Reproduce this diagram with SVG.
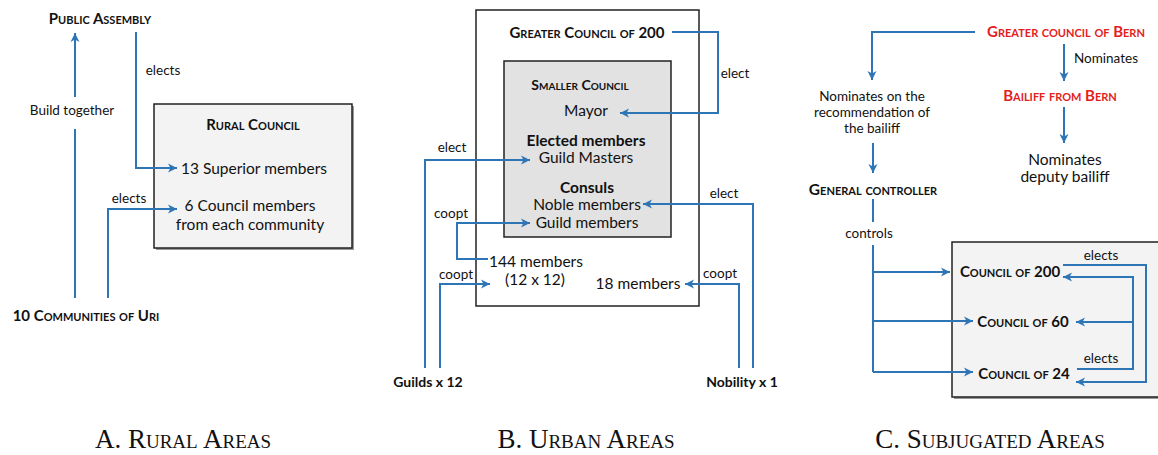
<svg xmlns="http://www.w3.org/2000/svg" width="1158" height="455" viewBox="0 0 1158 455">
<style>
text{font-family:Lato,"Open Sans","Liberation Sans",sans-serif;fill:#111;text-anchor:middle}
.t{font-size:13.5px}
.m{font-size:15.5px}
.sc{font-size:15px;font-weight:bold;font-variant:small-caps}
.b{font-weight:bold}
.red{fill:#e3211c}
.cap{font-family:"Liberation Serif","Times New Roman",serif;font-size:27px;font-variant:small-caps;font-weight:normal}
.box{stroke:#222;stroke-width:1.5}
.c{fill:none;stroke:#2e75b6;stroke-width:2}
.a{marker-end:url(#ah)}
</style>
<defs>
<marker id="ah" markerUnits="userSpaceOnUse" markerWidth="12" markerHeight="12" viewBox="0 0 12 12" refX="10" refY="6" orient="auto">
<path d="M1,1.5 L10,6 L1,10.5 L3.5,6 z" fill="#2e75b6"/>
</marker>
</defs>
<rect width="1158" height="455" fill="#fff"/>

<!-- Panel A -->
<g id="public-assembly"><text class="sc" x="100" y="24">Public Assembly</text></g>
<g id="rural-council">
<rect x="156" y="106" width="198" height="144" fill="#999"/>
<rect class="box" x="154" y="104" width="198" height="144" fill="#f3f3f3"/>
<text class="sc" x="253" y="130">Rural Council</text>
<text class="m" x="254" y="174">13 Superior members</text>
<text class="m" x="250" y="211">6 Council members</text>
<text class="m" x="250" y="230">from each community</text>
</g>
<g id="communities-uri"><text class="sc" x="86" y="321">10 Communities of Uri</text></g>

<!-- Panel B -->
<g id="greater-council-200">
<rect class="box" x="476" y="10" width="223" height="296" fill="#fff"/>
<text class="sc" x="587" y="38">Greater Council of 200</text>
<text class="m" x="536" y="267">144 members</text>
<text class="m" x="535" y="285">(12 x 12)</text>
<text class="m" x="638" y="289">18 members</text>
</g>
<g id="smaller-council">
<rect class="box" x="504" y="61" width="167" height="176" fill="#e2e2e2"/>
<text class="sc" x="580" y="90" style="font-size:14px">Smaller Council</text>
<text class="m" x="586" y="116">Mayor</text>
<text class="m b" x="586" y="146">Elected members</text>
<text class="m" x="586" y="163">Guild Masters</text>
<text class="m b" x="587" y="193">Consuls</text>
<text class="m" x="587" y="210">Noble members</text>
<text class="m" x="587" y="228">Guild members</text>
</g>
<g id="guilds"><text class="m b" x="428" y="387" style="font-size:14px">Guilds x 12</text></g>
<g id="nobility"><text class="m b" x="742" y="387" style="font-size:14px">Nobility x 1</text></g>

<!-- Panel C -->
<g id="greater-council-bern"><text class="sc red" x="1066" y="37">Greater council of Bern</text></g>
<g id="bailiff"><text class="sc red" x="1060" y="101">Bailiff from Bern</text></g>
<g id="deputy">
<text class="m" x="1065" y="165">Nominates</text>
<text class="m" x="1065" y="182">deputy bailiff</text>
</g>
<g id="recommendation">
<text class="t" x="872" y="101">Nominates on the</text>
<text class="t" x="872" y="117">recommendation of</text>
<text class="t" x="872" y="133">the bailiff</text>
</g>
<g id="general-controller"><text class="sc" x="873" y="195" style="font-size:15.5px">General controller</text></g>
<g id="subjugated-councils">
<rect x="954" y="244" width="206" height="155" fill="#999"/>
<rect class="box" x="952" y="242" width="210" height="155" fill="#f3f3f3"/>
<text class="sc" x="1010" y="277">Council of 200</text>
<text class="sc" x="1023" y="327">Council of 60</text>
<text class="sc" x="1024" y="379">Council of 24</text>
</g>

<!-- Connectors -->
<g id="connectors">
<path class="c a" d="M75,97 V33"/>
<path class="c" d="M75,129 V298"/>
<path class="c a" d="M136,32 V168 H177"/>
<path class="c a" d="M108,298 V209 H177"/>

<path class="c a" d="M672,32 H718 V113 H620"/>
<path class="c a" d="M425,368 V160 H530"/>
<path class="c a" d="M488,259 H457 V223 H530"/>
<path class="c a" d="M440,368 V284 H490"/>
<path class="c a" d="M739,368 V284 H685"/>
<path class="c a" d="M753,368 V204 H643"/>

<path class="c a" d="M975,32 H872 V80"/>
<path class="c a" d="M1064,44 V81"/>
<path class="c a" d="M1064,107 V143"/>
<path class="c a" d="M873,143 V173"/>
<path class="c" d="M873,199 V222"/>
<path class="c" d="M873,245 V372"/>
<path class="c a" d="M873,272 H950"/>
<path class="c a" d="M873,321 H973"/>
<path class="c a" d="M873,372 H973"/>
<path class="c a" d="M1063,265 H1146 V382 H1076"/>
<path class="c a" d="M1077,369 H1133 V277 H1063"/>
<path class="c a" d="M1133,322 H1076"/>

<text class="t" x="72" y="115">Build together</text>
<text class="t" x="163" y="75">elects</text>
<text class="t" x="129" y="203">elects</text>
<text class="t" x="735" y="78">elect</text>
<text class="t" x="452" y="152">elect</text>
<text class="t" x="451" y="218">coopt</text>
<text class="t" x="456" y="279">coopt</text>
<text class="t" x="720" y="278">coopt</text>
<text class="t" x="724" y="198">elect</text>
<text class="t" x="1106" y="63">Nominates</text>
<text class="t" x="869" y="238">controls</text>
<text class="t" x="1101" y="260">elects</text>
<text class="t" x="1101" y="363">elects</text>
</g>

<!-- Captions -->
<g id="captions">
<text class="cap" x="183" y="448">A. Rural Areas</text>
<text class="cap" x="586" y="448">B. Urban Areas</text>
<text class="cap" x="990" y="448">C. Subjugated Areas</text>
</g>
</svg>
